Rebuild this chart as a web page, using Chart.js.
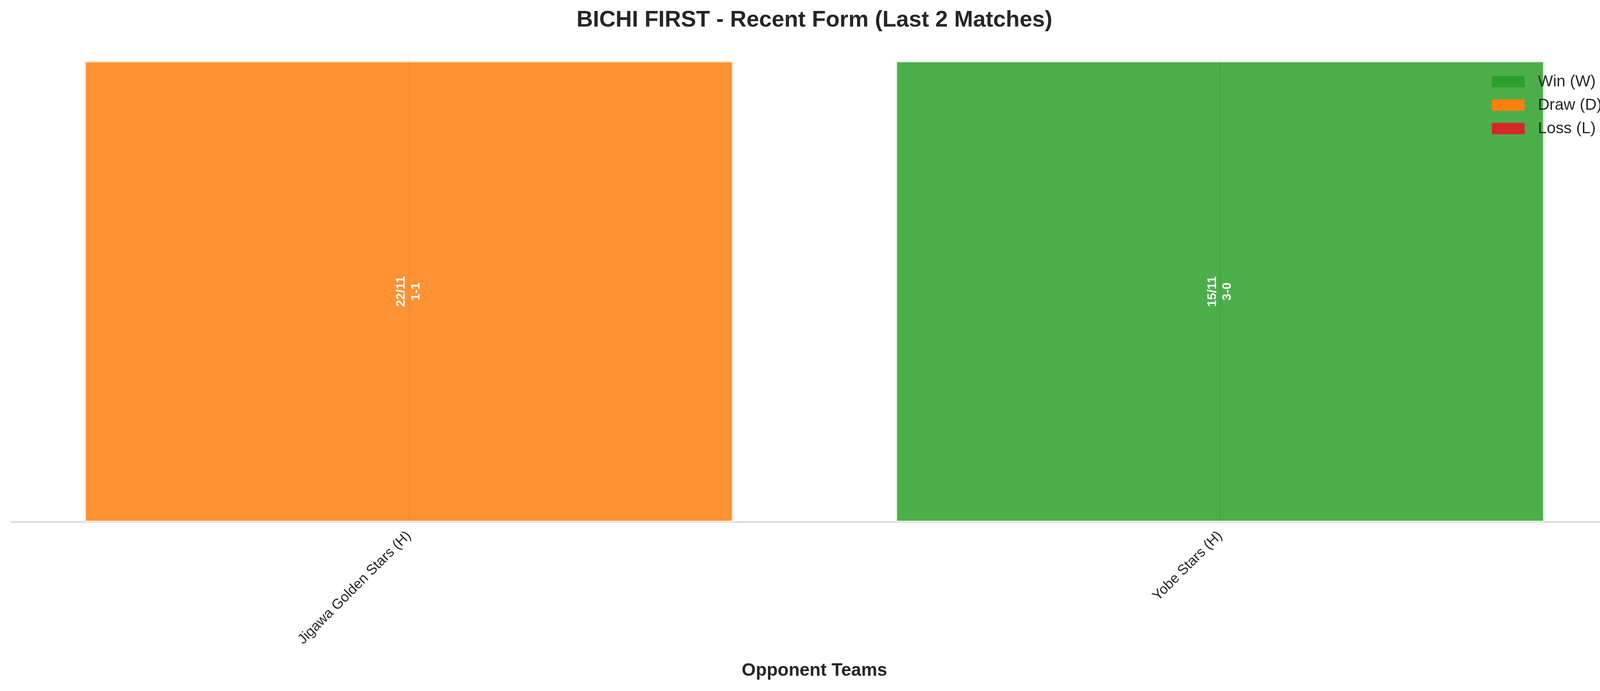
<!DOCTYPE html>
<html lang="en">
<head>
  <meta charset="UTF-8">
  <title>BICHI FIRST - Recent Form</title>
  <style>
    body {
      margin: 0;
      background: #ffffff;
    }
    #formChart {
      display: block;
    }
  </style>
</head>
<body>
  <canvas id="formChart" width="4170" height="1769" style="width:4170px;height:1769px"></canvas>

  <script src="https://cdn.jsdelivr.net/npm/chart.js"></script>
  <script>
    // match data, most recent first
    const opponents = ['Jigawa Golden Stars (H)', 'Yobe Stars (H)'];
    const results = ['D', 'W'];
    const dates = ['22/11', '15/11'];
    const scores = ['1-1', '3-0'];
    const barValues = [1, 1];

    const resultKeys = ['W', 'D', 'L'];
    const resultNames = ['Win (W)', 'Draw (D)', 'Loss (L)'];
    const resultColors = ['#2ca02c', '#ff7f0e', '#d62728'];
    const resultFills = ['rgba(44,160,44,0.85)', 'rgba(255,127,14,0.85)', 'rgba(214,39,40,0.85)'];
    const resultEdges = ['#e4f2e4', '#fdebdc', '#f9e0e0'];

    const textColor = '#262626';
    Chart.defaults.font.family = '"Liberation Sans", Arial, sans-serif';
    Chart.defaults.color = textColor;

    const datasets = resultKeys.map((key, k) => ({
      label: resultNames[k],
      data: opponents
        .map((name, i) => ({ x: i, y: barValues[i], r: results[i] }))
        .filter(p => p.r === key),
      backgroundColor: resultFills[k],
      borderColor: resultEdges[k],
      borderWidth: 4,
      borderSkipped: false,
      grouped: false,
      categoryPercentage: 0.8,
      barPercentage: 1.0
    }));

    // date + score written vertically in the middle of each bar
    const barText = {
      id: 'barText',
      afterDatasetsDraw(chart) {
        const ctx = chart.ctx;
        ctx.save();
        ctx.fillStyle = '#ffffff';
        ctx.font = 'bold 32px "Liberation Sans", Arial, sans-serif';
        ctx.textAlign = 'center';
        ctx.textBaseline = 'middle';
        chart.data.datasets.forEach((ds, d) => {
          const meta = chart.getDatasetMeta(d);
          meta.data.forEach((bar, j) => {
            const i = ds.data[j].x;
            ctx.save();
            ctx.translate(bar.x, (bar.y + bar.base) / 2);
            ctx.rotate(-Math.PI / 2);
            ctx.fillText(dates[i], 0, -19);
            ctx.fillText(scores[i], 0, 19);
            ctx.restore();
          });
        });
        ctx.restore();
      }
    };

    // legend inside the plot, upper right
    const innerLegend = {
      id: 'innerLegend',
      afterDraw(chart) {
        const ctx = chart.ctx;
        const area = chart.chartArea;
        const x0 = area.right - 322;
        const y0 = area.top + 39;
        ctx.save();
        ctx.font = '41px "Liberation Sans", Arial, sans-serif';
        ctx.textAlign = 'left';
        ctx.textBaseline = 'middle';
        chart.data.datasets.forEach((ds, k) => {
          const y = y0 + k * 60;
          ctx.fillStyle = resultColors[k];
          ctx.fillRect(x0, y, 84, 29);
          ctx.fillStyle = textColor;
          ctx.fillText(ds.label, x0 + 118, y + 15);
        });
        ctx.restore();
      }
    };

    new Chart(document.getElementById('formChart'), {
      type: 'bar',
      data: { datasets: datasets },
      plugins: [barText, innerLegend],
      options: {
        responsive: false,
        animation: false,
        devicePixelRatio: 1,
        layout: { padding: { left: 29, right: 29, top: 0, bottom: 0 } },
        plugins: {
          legend: { display: false },
          tooltip: { enabled: false },
          title: {
            display: true,
            text: 'BICHI FIRST - Recent Form (Last 2 Matches)',
            color: textColor,
            font: { size: 58, weight: 'bold' },
            padding: { top: 17, bottom: 69 }
          }
        },
        scales: {
          x: {
            type: 'linear',
            offset: false,
            min: -0.49,
            max: 1.49,
            afterBuildTicks: scale => {
              scale.ticks = opponents.map((name, i) => ({ value: i }));
            },
            ticks: {
              callback: v => opponents[v],
              autoSkip: false,
              minRotation: 45,
              maxRotation: 45,
              padding: 14,
              color: textColor,
              font: { size: 36 }
            },
            grid: { offset: false, color: '#cccccc', lineWidth: 3, drawTicks: false },
            border: { display: true, color: '#cccccc', width: 3 },
            title: {
              display: true,
              text: 'Opponent Teams',
              color: textColor,
              font: { size: 46, weight: 'bold' },
              padding: { top: 17, bottom: 24 }
            }
          },
          y: {
            display: false,
            min: 0,
            max: 1
          }
        }
      }
    });
  </script>
</body>
</html>
